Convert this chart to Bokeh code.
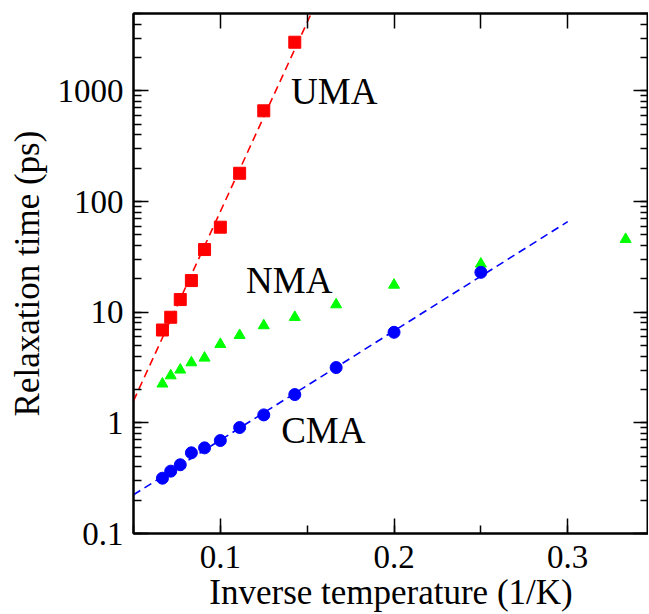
from bokeh.plotting import figure
from bokeh.models import (LinearAxis, LogAxis, SingleIntervalTicker, LogTicker,
                          Range1d, CustomJSTickFormatter)
from bokeh.core.properties import value
from bokeh.embed import file_html
from bokeh.resources import INLINE

# ---- data (inverse temperature 1/K, relaxation time ps) ----
inv_T = [1/15, 1/14, 1/13, 1/12, 1/11, 1/10, 1/9, 1/8, 1/7]
uma_tau = [6.9, 9.0, 13.0, 19.3, 36.8, 58.6, 180, 660, 2750]

cma_inv_T = [1/15, 1/14, 1/13, 1/12, 1/11, 1/10, 1/9, 1/8, 1/7, 1/6, 1/5, 1/4]
cma_tau = [0.316, 0.366, 0.418, 0.536, 0.594, 0.692, 0.907, 1.18, 1.80, 3.16, 6.58, 22.9]

nma_inv_T = [1/15, 1/14, 1/13, 1/12, 1/11, 1/10, 1/9, 1/8, 1/7, 1/6, 1/5, 1/4, 1/3]
nma_tau = [2.25, 2.67, 3.01, 3.5, 3.86, 5.13, 6.18, 7.57, 9.0, 11.7, 17.6, 27.3, 45.6]

uma_fit_x = [0.05, 0.16]
uma_fit_y = [1.58, 9160]
cma_fit_x = [0.05, 0.30]
cma_fit_y = [0.224, 65.8]

labels = ["UMA", "NMA", "CMA"]
label_x = [0.1407, 0.1148, 0.135]
label_y = [985, 19.4, 0.858]

FONT = "Liberation Serif"

p = figure(output_backend="svg", toolbar_location=None,
           y_axis_type="log",
           x_range=Range1d(0.05, 0.3465), y_range=Range1d(0.1, 5000),
           frame_width=515, frame_height=520,
           min_border_left=133, min_border_right=0, min_border_top=13, min_border_bottom=0,
           background_fill_color="white", border_fill_color="white")
p.grid.visible = False
p.outline_line_color = "black"
p.outline_line_width = 2

xa = p.xaxis[0]
xa.ticker = SingleIntervalTicker(interval=0.1, num_minor_ticks=2)
xa.axis_label = "Inverse temperature (1/K)"
ya = p.yaxis[0]
ya.ticker = LogTicker(num_minor_ticks=10)
ya.axis_label = "Relaxation time (ps)"
ya.formatter = CustomJSTickFormatter(code="return tick >= 1 ? tick.toFixed(0) : tick.toFixed(1);")
xa.formatter = CustomJSTickFormatter(code="return tick.toFixed(1);")

for ax in (xa, ya):
    ax.axis_line_width = 2
    ax.major_tick_in = 15
    ax.major_tick_out = 0
    ax.minor_tick_in = 8
    ax.minor_tick_out = 0
    ax.major_tick_line_width = 1.5
    ax.minor_tick_line_width = 1.5
    ax.major_label_text_font = FONT
    ax.major_label_text_font_size = "33px"
    ax.major_label_text_color = "black"
    ax.axis_label_text_font = FONT
    ax.axis_label_text_font_size = "35px"
    ax.axis_label_text_font_style = "normal"
    ax.axis_label_text_color = "black"

xa.major_label_standoff = 12
xa.axis_label_standoff = 2
ya.major_label_standoff = 10
ya.axis_label_standoff = 8

top = LinearAxis(ticker=SingleIntervalTicker(interval=0.05, num_minor_ticks=0))
right = LogAxis(ticker=LogTicker(num_minor_ticks=10))
for ax in (top, right):
    ax.axis_line_width = 2
    ax.major_tick_in = 15
    ax.major_tick_out = 0
    ax.minor_tick_in = 8
    ax.minor_tick_out = 0
    ax.major_tick_line_width = 1.5
    ax.minor_tick_line_width = 1.5
    ax.formatter = CustomJSTickFormatter(code="return '';")
    ax.major_label_text_font_size = "1px"
    ax.major_label_standoff = 0
p.add_layout(top, "above")
p.add_layout(right, "right")

p.line(uma_fit_x, uma_fit_y, line_color="#ff0000", line_dash="8 5", line_width=1.6)
p.line(cma_fit_x, cma_fit_y, line_color="#0000ff", line_dash="8 5", line_width=1.6)

p.scatter(inv_T, uma_tau, marker="square", size=12, fill_color="#ff0000", line_color="#ff0000")
p.scatter(nma_inv_T, nma_tau, marker="triangle", size=11, fill_color="#00ff00", line_color="#00ff00")
p.scatter(cma_inv_T, cma_tau, marker="circle", size=12, fill_color="#0000ff", line_color="#0000ff")

p.text(x=label_x, y=label_y, text=labels, text_font=value(FONT), text_font_size="37px",
       text_color="black", text_baseline="alphabetic", text_align="left")

open("out.html", "w").write(file_html(p, INLINE))
